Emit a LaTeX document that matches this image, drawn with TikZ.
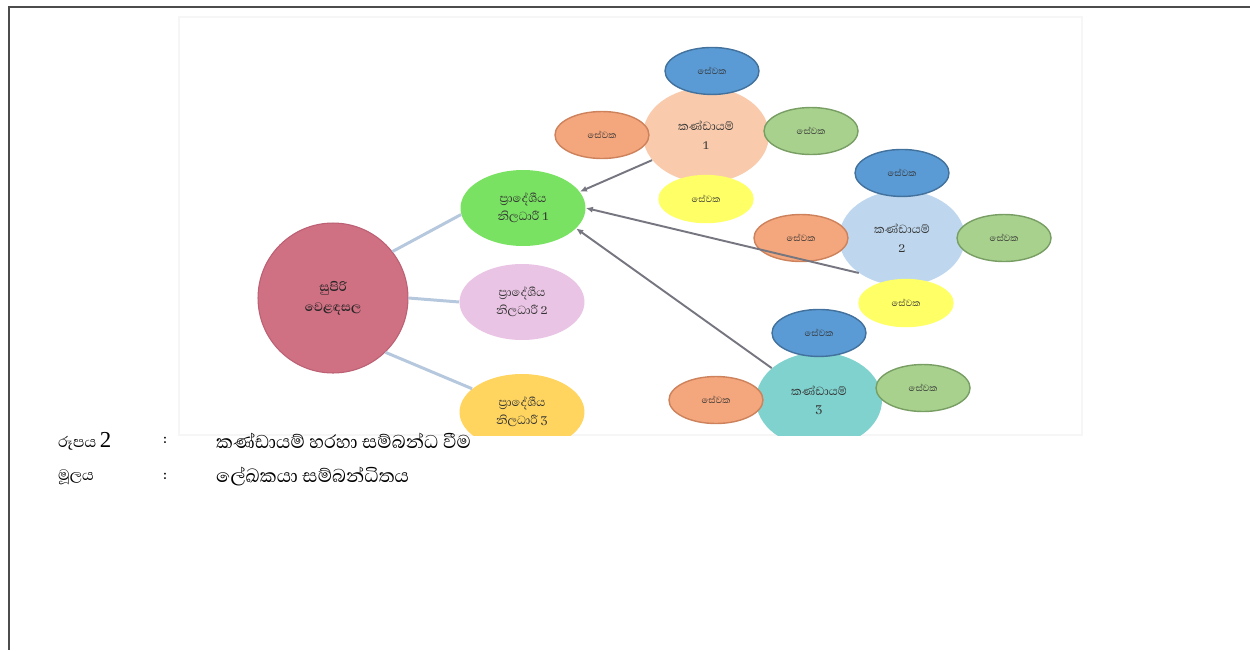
\documentclass[tikz,border=0pt]{standalone}
\usepackage{fontspec}
\newfontfamily\sinhala[Script=Sinhala]{Abhaya Libre}
\newfontfamily\serifnum{Liberation Serif}
\usetikzlibrary{shapes.geometric, positioning, arrows.meta}

\definecolor{supRed}{RGB}{207,112,131}
\definecolor{supEdge}{RGB}{188,96,116}
\definecolor{offGreen}{RGB}{122,226,98}
\definecolor{offPink}{RGB}{234,196,228}
\definecolor{offGold}{RGB}{255,213,96}
\definecolor{teamPeach}{RGB}{249,203,172}
\definecolor{teamBlue}{RGB}{190,215,238}
\definecolor{teamTeal}{RGB}{128,210,206}
\definecolor{wBlue}{RGB}{91,155,213}
\definecolor{wBlueEdge}{RGB}{65,113,156}
\definecolor{wOrange}{RGB}{244,166,124}
\definecolor{wOrangeEdge}{RGB}{205,130,92}
\definecolor{wGreen}{RGB}{169,209,142}
\definecolor{wGreenEdge}{RGB}{120,158,100}
\definecolor{wYellow}{RGB}{255,255,102}
\definecolor{linkBlue}{RGB}{182,200,221}
\definecolor{arrowGray}{RGB}{118,118,128}

\begin{document}
\begin{tikzpicture}[
	x=0.02cm, y=-0.02cm,
	font=\sinhala,
	% Node styles
	hub/.style={circle, minimum size=3cm, fill=supRed, draw=supEdge, line width=0.6pt, align=center, inner sep=0pt, font=\sinhala\bfseries\fontsize{9}{11.5}\selectfont, text=black!85},
	officer/.style={ellipse, minimum width=2.5cm, minimum height=1.52cm, align=center, inner sep=0pt, font=\sinhala\fontsize{8.5}{10}\selectfont, text=black!80},
	team/.style={ellipse, minimum width=2.52cm, minimum height=1.9cm, align=center, inner sep=0pt, font=\sinhala\fontsize{8.5}{10.5}\selectfont, text=black!80},
	worker/.style={ellipse, minimum width=1.88cm, minimum height=0.94cm, inner sep=0pt, line width=0.8pt, font=\sinhala\fontsize{6.5}{7}\selectfont, text=black!80},
	% Connector styles
	link/.style={draw=linkBlue, line width=1.7pt},
	report/.style={draw=arrowGray, line width=1.1pt, -{Latex[length=4pt, width=3.5pt]}},
	% Text styles
	caption/.style={anchor=west, font=\sinhala\fontsize{11}{13}\selectfont},
	capText/.style={anchor=west, font=\sinhala\fontsize{13.5}{15}\selectfont}
	]
	
	\useasboundingbox (0,0) rectangle (1250,650);
	
	% page rule
	\draw[black!70, line width=0.9pt] (1250,7) -- (9,7) -- (9,650);
	
	% ==============================================================================
	% DIAGRAM
	% ==============================================================================
	\draw[gray!7, line width=1pt] (179,17) rectangle (1082,435);
	
	\begin{scope}
		\clip (179,17) rectangle (1082,435);
		
		\node[hub] (Sup) at (333,298) {සුපිරි\\වෙළඳසල};
		
		\node[officer, fill=offGreen] (O1) at (523,208) {ප්‍රාදේශීය\\නිලධාරී 1};
		\node[officer, fill=offPink] (O2) at (522,302) {ප්‍රාදේශීය\\නිලධාරී 2};
		\node[officer, fill=offGold] (O3) at (522,412) {ප්‍රාදේශීය\\නිලධාරී 3};
		
		\draw[link] (Sup.38) -- (O1.186);
		\draw[link] (Sup.east) -- (O2.west);
		\draw[link] (Sup.-46) -- (O3.155);
		
		% team 1
		\node[team, fill=teamPeach] (T1) at (706,135) {කණ්ඩායම්\\1};
		\node[worker, fill=wBlue, draw=wBlueEdge, above=-0.16cm of T1, xshift=0.12cm] (T1a) {සේවක};
		\node[worker, fill=wOrange, draw=wOrangeEdge, left=-0.14cm of T1] (T1b) {සේවක};
		\node[worker, fill=wGreen, draw=wGreenEdge, right=-0.12cm of T1, yshift=0.08cm] (T1c) {සේවක};
		\node[worker, fill=wYellow, draw=wYellow, below=-0.16cm of T1] (T1d) {සේවක};
		
		% team 2
		\node[team, fill=teamBlue] (T2) at (902,238) {කණ්ඩායම්\\2};
		\node[worker, fill=wBlue, draw=wBlueEdge, above=-0.14cm of T2] (T2a) {සේවක};
		\node[worker, fill=wOrange, draw=wOrangeEdge, left=-0.2cm of T2] (T2b) {සේවක};
		\node[worker, fill=wGreen, draw=wGreenEdge, right=-0.18cm of T2] (T2c) {සේවක};
		\node[worker, fill=wYellow, draw=wYellow, below=-0.14cm of T2, xshift=0.08cm] (T2d) {සේවක};
		
		% team 3
		\node[team, fill=teamTeal] (T3) at (819,400) {කණ්ඩායම්\\3};
		\node[worker, fill=wBlue, draw=wBlueEdge, above=-0.1cm of T3] (T3a) {සේවක};
		\node[worker, fill=wOrange, draw=wOrangeEdge, left=-0.16cm of T3] (T3b) {සේවක};
		\node[worker, fill=wGreen, draw=wGreenEdge, right=-0.14cm of T3, yshift=0.24cm] (T3c) {සේවක};
		
		\draw[report] (T1.205) -- (O1.16);
		\draw[report] (T2.219) -- (O1.east);
		\draw[report] (T3.146) -- (O1.-21);
	\end{scope}
	
	% ==============================================================================
	% CAPTION
	% ==============================================================================
	\node[caption] (FigLbl) at (52,441) {රූපය {\serifnum\fontsize{13}{15}\selectfont 2}};
	\node[caption] (FigCol) at (157,441) {:};
	\node[capText] (FigTxt) at (210,441) {කණ්ඩායම් හරහා සම්බන්ධ වීම};
	\node[caption] (SrcLbl) at (52,477) {මූලය};
	\node[caption] (SrcCol) at (157,477) {:};
	\node[capText] (SrcTxt) at (210,477) {ලේඛකයා සම්බන්ධිතය};
	
\end{tikzpicture}
\end{document}
